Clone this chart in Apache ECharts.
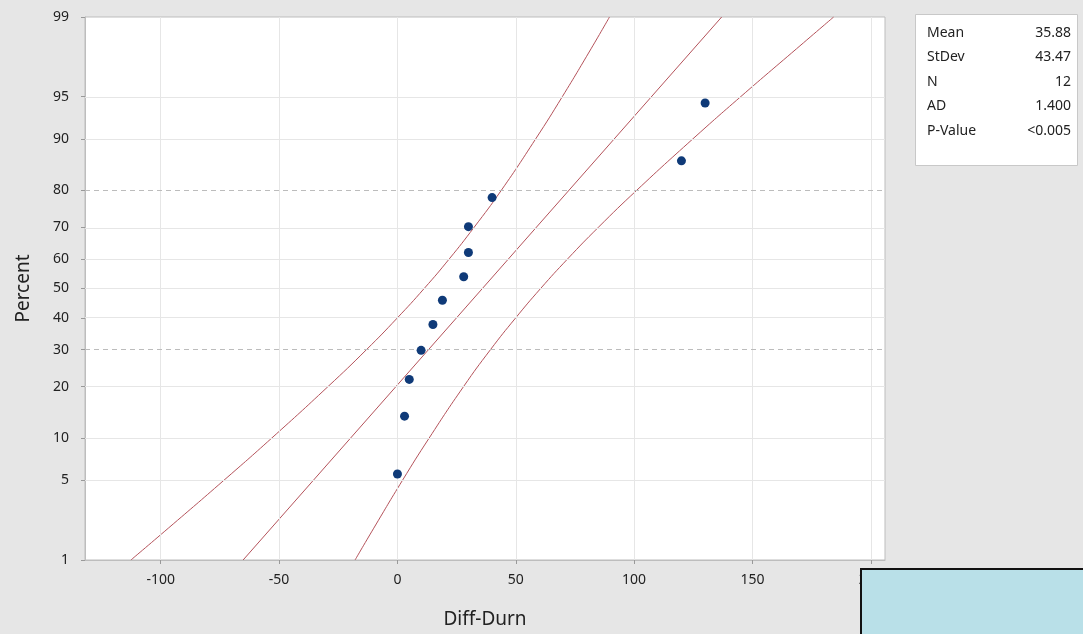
<!DOCTYPE html>
<html>
<head>
<meta charset="utf-8">
<script src="https://cdn.jsdelivr.net/npm/echarts@6/dist/echarts.min.js"></script>
<style>
  html, body { margin: 0; padding: 0; background: #e6e6e6; }
  #main { width: 1083px; height: 634px; }
</style>
</head>
<body>
<div id="main"></div>
<script>
// sample values and plotting positions (percent)
const diffDurn = [0, 3, 5, 10, 15, 19, 28, 30, 30, 40, 120, 130];
const percent  = [5.6, 13.7, 21.8, 29.8, 37.9, 46.0, 54.0, 62.1, 70.2, 78.2, 86.3, 94.4];

// fitted line ends
const fitX = [-65.2, 137.0];
const fitP = [1, 99];

// confidence band
const bandP     = [1, 2, 5, 10, 20, 30, 40, 50, 60, 70, 80, 90, 95, 98, 99];
const bandLower = [-112.6, -96.8, -73.4, -53.1, -29.4, -13.1, -0.1, 11.3, 21.9, 32.4, 43.9, 58.4, 69.7, 81.8, 89.6];
const bandUpper = [-17.9, -10.0, 2.1, 13.4, 27.9, 39.3, 49.9, 60.5, 71.9, 84.9, 101.1, 124.8, 145.1, 168.6, 184.3];

const xTicks = [-100, -50, 0, 50, 100, 150, 200];
const yTicks = [1, 5, 10, 20, 30, 40, 50, 60, 70, 80, 90, 95, 99];

const stats = [
  ['Mean', '35.88'],
  ['StDev', '43.47'],
  ['N', '12'],
  ['AD', '1.400'],
  ['P-Value', '<0.005']
];

// normal probability scale (inverse normal cdf, Acklam)
function probit(p) {
  const a = [-3.969683028665376e+01, 2.209460984245205e+02, -2.759285104469687e+02, 1.383577518672690e+02, -3.066479806614716e+01, 2.506628277459239e+00];
  const b = [-5.447609879822406e+01, 1.615858368580409e+02, -1.556989798598866e+02, 6.680131188771972e+01, -1.328068155288572e+01];
  const c = [-7.784894002430293e-03, -3.223964580411365e-01, -2.400758277161838e+00, -2.549732539343734e+00, 4.374664141464968e+00, 2.938163982698783e+00];
  const d = [7.784695709041462e-03, 3.224671290700398e-01, 2.445134137142996e+00, 3.754408661907416e+00];
  const pl = 0.02425;
  let q, r;
  if (p < pl) {
    q = Math.sqrt(-2 * Math.log(p));
    return (((((c[0]*q+c[1])*q+c[2])*q+c[3])*q+c[4])*q+c[5]) / ((((d[0]*q+d[1])*q+d[2])*q+d[3])*q+1);
  }
  if (p <= 1 - pl) {
    q = p - 0.5; r = q * q;
    return (((((a[0]*r+a[1])*r+a[2])*r+a[3])*r+a[4])*r+a[5])*q / (((((b[0]*r+b[1])*r+b[2])*r+b[3])*r+b[4])*r+1);
  }
  q = Math.sqrt(-2 * Math.log(1 - p));
  return -(((((c[0]*q+c[1])*q+c[2])*q+c[3])*q+c[4])*q+c[5]) / ((((d[0]*q+d[1])*q+d[2])*q+d[3])*q+1);
}
const z = pct => probit(pct / 100);

const yMin = z(1), yMax = z(99);
const yTickPos = yTicks.map(z);

const lineColor = '#b4525a';
const font = 'Noto Sans';

const statGraphics = [];
stats.forEach((s, i) => {
  const y = 26 + i * 24.5;
  statGraphics.push({ type: 'text', left: 927, top: y, style: { text: s[0], font: '14px "Noto Sans"', fill: '#222' } });
  statGraphics.push({ type: 'text', right: 12, top: y, style: { text: s[1], font: '14px "Noto Sans"', fill: '#222', textAlign: 'right' } });
});

const option = {
  backgroundColor: '#e6e6e6',
  animation: false,
  grid: {
    left: 85, right: 198, top: 17, bottom: 74,
    show: true, backgroundColor: '#ffffff', borderColor: '#bdbdbd', borderWidth: 1
  },
  xAxis: {
    type: 'value',
    min: -132, max: 206,
    name: 'Diff-Durn',
    nameLocation: 'middle',
    nameGap: 50,
    nameTextStyle: { fontSize: 19, color: '#222', fontFamily: font },
    axisLine: { show: true, onZero: false, lineStyle: { color: '#bdbdbd' } },
    axisTick: { show: true, length: 4, customValues: xTicks, lineStyle: { color: '#999' } },
    axisLabel: { customValues: xTicks, fontSize: 14, color: '#222', fontFamily: font, margin: 13 },
    splitLine: { show: false }
  },
  yAxis: {
    type: 'value',
    min: yMin, max: yMax,
    name: 'Percent',
    nameLocation: 'middle',
    nameGap: 52,
    nameRotate: 90,
    nameTextStyle: { fontSize: 19, color: '#222', fontFamily: font },
    axisLine: { show: true, onZero: false, lineStyle: { color: '#bdbdbd' } },
    axisTick: { show: true, length: 4, customValues: yTickPos, lineStyle: { color: '#999' } },
    axisLabel: {
      customValues: yTickPos, fontSize: 14, color: '#222', fontFamily: font, margin: 16,
      formatter: v => {
        const i = yTickPos.findIndex(t => Math.abs(t - v) < 1e-6);
        return i >= 0 ? String(yTicks[i]) : '';
      }
    },
    splitLine: { show: false }
  },
  series: [
    {
      name: 'grid',
      type: 'line',
      data: [],
      markLine: {
        silent: true, symbol: ['none', 'none'], label: { show: false },
        lineStyle: { color: '#e6e6e6', type: 'solid', width: 1 },
        data: xTicks.map(v => ({ xAxis: v })).concat(
          yTicks.map(p => ({
            yAxis: z(p),
            lineStyle: (p === 30 || p === 80)
              ? { color: '#bcbcbc', type: [5, 4], width: 1 }
              : { color: '#e6e6e6', type: 'solid', width: 1 }
          })))
      }
    },
    {
      name: 'lower',
      type: 'line',
      smooth: true,
      symbol: 'none',
      lineStyle: { color: lineColor, width: 1 },
      data: bandP.map((p, i) => [bandLower[i], z(p)])
    },
    {
      name: 'upper',
      type: 'line',
      smooth: true,
      symbol: 'none',
      lineStyle: { color: lineColor, width: 1 },
      data: bandP.map((p, i) => [bandUpper[i], z(p)])
    },
    {
      name: 'fit',
      type: 'line',
      symbol: 'none',
      lineStyle: { color: lineColor, width: 1 },
      data: fitP.map((p, i) => [fitX[i], z(p)])
    },
    {
      name: 'Diff-Durn',
      type: 'scatter',
      symbolSize: 9,
      itemStyle: { color: '#0f3a78', opacity: 1 },
      z: 5,
      data: diffDurn.map((x, i) => [x, z(percent[i])])
    }
  ],
  graphic: [
    {
      type: 'rect',
      left: 915, top: 14,
      shape: { width: 162, height: 151 },
      style: { fill: '#ffffff', stroke: '#c8c8c8', lineWidth: 1 }
    },
    ...statGraphics,
    {
      type: 'rect',
      left: 860, top: 568,
      z: 100,
      shape: { width: 240, height: 80 },
      style: { fill: '#b9e0e8', stroke: '#111', lineWidth: 2 }
    }
  ]
};

const chart = echarts.init(document.getElementById('main'));
chart.setOption(option);
</script>
</body>
</html>
